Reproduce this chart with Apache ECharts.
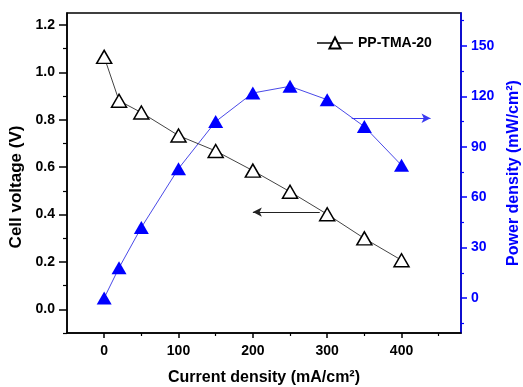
<!DOCTYPE html>
<html>
<head>
<meta charset="utf-8">
<script src="https://cdn.jsdelivr.net/npm/echarts@6/dist/echarts.min.js"></script>
<style>
html,body{margin:0;padding:0;background:#fff;}
#chart{width:523px;height:387px;}
</style>
</head>
<body>
<div id="chart"></div>
<script>
// ---- data ----
const currentDensity = [0, 20, 50, 100, 150, 200, 250, 300, 350, 400];
const cellVoltage    = [1.065, 0.88, 0.83, 0.733, 0.668, 0.585, 0.496, 0.401, 0.299, 0.207];
const powerDensity   = [0, 18, 42, 77, 105, 122, 126, 118, 102, 79];

const currentTicks      = [0, 100, 200, 300, 400];
const currentMinorTicks = [50, 150, 250, 350, 450];
const voltageTicks      = [0.0, 0.2, 0.4, 0.6, 0.8, 1.0, 1.2];
const voltageMinorTicks = [-0.1, 0.1, 0.3, 0.5, 0.7, 0.9, 1.1];
const powerTicks        = [0, 30, 60, 90, 120, 150];
const powerMinorTicks   = [-15, 15, 45, 75, 105, 135, 165];

const seriesName = 'PP-TMA-20';
// annotation arrows (data coordinates)
const voltageArrow = [[290, 0.41], [200, 0.41]];
const powerArrow   = [[333, 107], [439, 107]];

const FONT = '"Liberation Sans", Arial, sans-serif';
const BLUE = '#0000ff';

const vData = currentDensity.map((x, i) => [x, cellVoltage[i]]);
const pData = currentDensity.map((x, i) => [x, powerDensity[i]]);

const chart = echarts.init(document.getElementById('chart'), null, {renderer: 'canvas'});

const xRange = {min: -50, max: 480};
const vRange = {min: -0.1, max: 1.25};
const pRange = {min: -20.8, max: 169.6};

chart.setOption({
  animation: false,
  backgroundColor: '#fff',
  textStyle: {fontFamily: FONT},
  grid: {left: 67, top: 13, right: 62, bottom: 54, containLabel: false, outerBoundsMode: 'none',
         show: true, borderColor: '#000', borderWidth: 1.5, backgroundColor: 'transparent'},
  legend: {
    show: true,
    data: [seriesName],
    left: 311, top: 31,
    itemWidth: 36, itemHeight: 14, itemGap: 5,
    textStyle: {fontFamily: FONT, fontWeight: 'bold', fontSize: 14, color: '#000'}
  },
  xAxis: [
    {
      type: 'value', ...xRange, position: 'bottom',
      name: 'Current density (mA/cm²)', nameLocation: 'middle', nameGap: 37,
      nameTextStyle: {fontFamily: FONT, fontWeight: 'bold', fontSize: 16, color: '#000'},
      axisLine: {show: true, onZero: false, lineStyle: {color: '#000', width: 1.5}},
      axisTick: {show: true, inside: false, length: 5, customValues: currentTicks, lineStyle: {color: '#000', width: 1.5}},
      axisLabel: {show: true, customValues: currentTicks, margin: 11, fontFamily: FONT, fontWeight: 'bold', fontSize: 14, color: '#000'},
      splitLine: {show: false}
    },
    {
      type: 'value', ...xRange, position: 'bottom',
      axisLine: {show: false, onZero: false},
      axisTick: {show: true, inside: false, length: 3, customValues: currentMinorTicks, lineStyle: {color: '#000', width: 1.2}},
      axisLabel: {show: false},
      splitLine: {show: false}
    }
  ],
  yAxis: [
    {
      type: 'value', ...vRange, position: 'left',
      name: 'Cell voltage (V)', nameLocation: 'middle', nameRotate: 90, nameGap: 38,
      nameTextStyle: {fontFamily: FONT, fontWeight: 'bold', fontSize: 17, color: '#000', padding: [0, 28, 0, 0]},
      axisLine: {show: true, onZero: false, lineStyle: {color: '#000', width: 1.5}},
      axisTick: {show: true, inside: false, length: 8, customValues: voltageTicks, lineStyle: {color: '#000', width: 1.5}},
      axisLabel: {show: true, customValues: voltageTicks, margin: 12, fontFamily: FONT, fontWeight: 'bold', fontSize: 14, color: '#000',
                  formatter: v => Number(v).toFixed(1)},
      splitLine: {show: false}
    },
    {
      type: 'value', ...pRange, position: 'right',
      name: 'Power density (mW/cm²)', nameLocation: 'middle', nameRotate: 90, nameGap: 45,
      nameTextStyle: {fontFamily: FONT, fontWeight: 'bold', fontSize: 16, color: BLUE},
      axisLine: {show: true, onZero: false, lineStyle: {color: BLUE, width: 1.5}},
      axisTick: {show: true, inside: false, length: 6, customValues: powerTicks, lineStyle: {color: BLUE, width: 1.5}},
      axisLabel: {show: true, customValues: powerTicks, margin: 10, fontFamily: FONT, fontWeight: 'bold', fontSize: 14, color: BLUE},
      splitLine: {show: false}
    },
    {
      type: 'value', ...vRange, position: 'left',
      axisLine: {show: false, onZero: false},
      axisTick: {show: true, inside: false, length: 4, customValues: voltageMinorTicks, lineStyle: {color: '#000', width: 1.2}},
      axisLabel: {show: false},
      splitLine: {show: false}
    },
    {
      type: 'value', ...pRange, position: 'right',
      axisLine: {show: false, onZero: false},
      axisTick: {show: true, inside: false, length: 3, customValues: powerMinorTicks, lineStyle: {color: BLUE, width: 1.2}},
      axisLabel: {show: false},
      splitLine: {show: false}
    }
  ],
  series: [
    {
      name: seriesName,
      type: 'line',
      xAxisIndex: 0, yAxisIndex: 0,
      data: vData,
      symbol: 'triangle', symbolSize: [15, 13],
      showAllSymbol: true,
      lineStyle: {color: '#444', width: 1},
      itemStyle: {color: '#fff', borderColor: '#000', borderWidth: 1.5},
      z: 3,
      markLine: {
        silent: true,
        symbol: ['none', 'arrow'], symbolSize: [7, 9],
        label: {show: false},
        lineStyle: {color: '#222', width: 1, type: 'solid'},
        data: [[{coord: voltageArrow[0]}, {coord: voltageArrow[1]}]]
      }
    },
    {
      name: 'power',
      type: 'line',
      xAxisIndex: 0, yAxisIndex: 1,
      data: pData,
      symbol: 'triangle', symbolSize: [15, 13],
      showAllSymbol: true,
      lineStyle: {color: '#4a4ae8', width: 1},
      itemStyle: {color: BLUE, borderColor: BLUE, borderWidth: 0},
      z: 2,
      markLine: {
        silent: true,
        symbol: ['none', 'arrow'], symbolSize: [7, 9],
        label: {show: false},
        lineStyle: {color: '#3a3af0', width: 1, type: 'solid'},
        data: [[{coord: powerArrow[0]}, {coord: powerArrow[1]}]]
      }
    }
  ]
});
</script>
</body>
</html>
